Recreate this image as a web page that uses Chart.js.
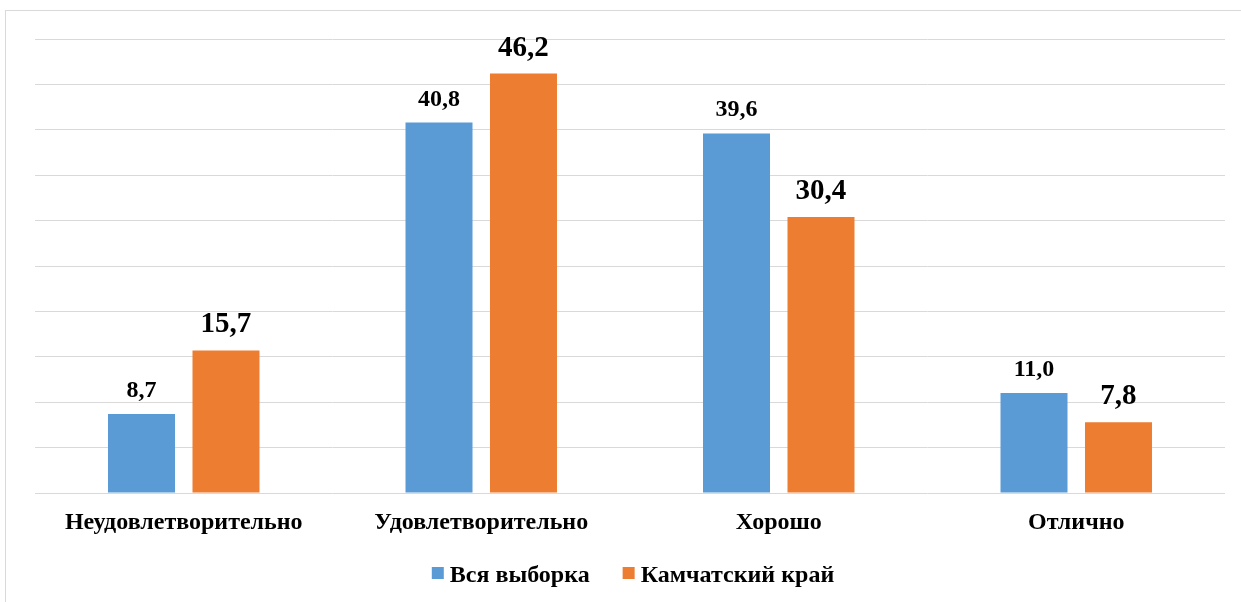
<!DOCTYPE html>
<html>
<head>
<meta charset="utf-8">
<script src="https://cdn.jsdelivr.net/npm/chart.js@4"></script>
<style>
  html, body { margin: 0; padding: 0; background: #fff; overflow: hidden; }
  #wrap { position: relative; width: 1241px; height: 602px; overflow: hidden; }
  #frame { position: absolute; left: 5px; top: 10px; width: 1300px; height: 700px; border-left: 1px solid #d9d9d9; border-top: 1px solid #d9d9d9; }
  canvas { position: absolute; left: 0; top: 0; }
</style>
</head>
<body>
<div id="wrap">
  <div id="frame"></div>
  <canvas id="chart" width="1241" height="602"></canvas>
</div>
<script>
const categories = ['Неудовлетворительно', 'Удовлетворительно', 'Хорошо', 'Отлично'];
const allSample = [8.7, 40.8, 39.6, 11.0];
const kamchatka = [15.7, 46.2, 30.4, 7.8];
const seriesNames = ['Вся выборка', 'Камчатский край'];
const colors = ['#5b9bd5', '#ed7d31'];

const font = '"Liberation Serif", "Times New Roman", serif';
const labelSizes = [24, 29];
const labelGaps = [17, 18];

// draws the value above each bar, with a comma as decimal mark
const valueLabels = {
  id: 'valueLabels',
  afterDatasetsDraw(chart) {
    const ctx = chart.ctx;
    ctx.save();
    ctx.fillStyle = '#000';
    ctx.textAlign = 'center';
    ctx.textBaseline = 'alphabetic';
    chart.data.datasets.forEach((ds, i) => {
      ctx.font = `bold ${labelSizes[i]}px ${font}`;
      chart.getDatasetMeta(i).data.forEach((bar, j) => {
        ctx.fillText(ds.data[j].toFixed(1).replace('.', ','), bar.x, bar.y - labelGaps[i]);
      });
    });
    ctx.restore();
  }
};

// legend drawn by hand so the box/text spacing matches the office look
const bottomLegend = {
  id: 'bottomLegend',
  afterDraw(chart) {
    const ctx = chart.ctx;
    ctx.save();
    ctx.font = `bold 24px ${font}`;
    ctx.textBaseline = 'alphabetic';
    const box = 12, gap = 6, spacing = 33;
    const widths = chart.data.datasets.map(ds => ctx.measureText(ds.label).width);
    const total = widths.reduce((a, w) => a + box + gap + w, 0) + spacing * (widths.length - 1);
    let x = 633 - total / 2;
    const baseline = 582;
    chart.data.datasets.forEach((ds, i) => {
      ctx.fillStyle = ds.backgroundColor;
      ctx.fillRect(x, baseline - 15, box, box);
      ctx.fillStyle = '#000';
      ctx.fillText(ds.label, x + box + gap, baseline);
      x += box + gap + widths[i] + spacing;
    });
    ctx.restore();
  }
};

new Chart(document.getElementById('chart'), {
  type: 'bar',
  data: {
    labels: categories,
    datasets: [{
      label: seriesNames[0],
      data: allSample,
      backgroundColor: colors[0]
    }, {
      label: seriesNames[1],
      data: kamchatka,
      backgroundColor: colors[1]
    }]
  },
  options: {
    responsive: false,
    animation: false,
    categoryPercentage: 0.568,
    barPercentage: 0.793,
    layout: { padding: { left: 35, right: 16, top: 39, bottom: 51 } },
    plugins: {
      tooltip: { enabled: false },
      legend: { display: false }
    },
    scales: {
      x: {
        grid: { display: false },
        border: { display: false },
        ticks: {
          color: '#000',
          font: { family: font, size: 24, weight: 'bold' },
          padding: 7
        },
        afterFit(axis) { axis.height = 58; }
      },
      y: {
        min: 0,
        max: 50,
        ticks: { display: false, stepSize: 5 },
        border: { display: false },
        grid: { color: '#d9d9d9', lineWidth: 1, drawTicks: false }
      }
    }
  },
  plugins: [valueLabels, bottomLegend]
});
</script>
</body>
</html>
